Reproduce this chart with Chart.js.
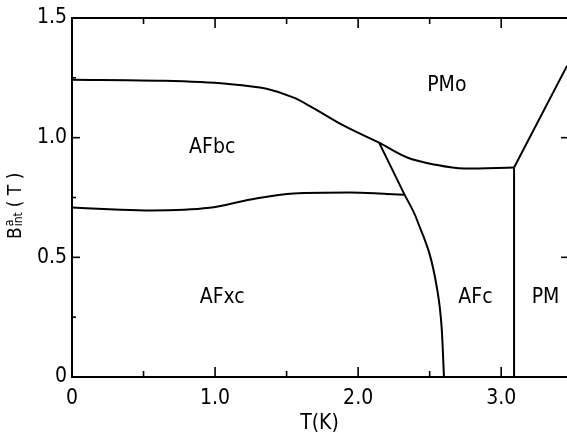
<!DOCTYPE html>
<html>
<head>
<meta charset="utf-8">
<script src="https://cdn.jsdelivr.net/npm/chart.js@4.4.0/dist/chart.umd.min.js"></script>
<style>
  html, body { margin: 0; padding: 0; background: #fff; }
</style>
</head>
<body>
<canvas id="phaseChart" width="567" height="437"></canvas>
<script>
const X_TICKS = [0, 1, 2, 3];
const X_LABELS = ["0", "1.0", "2.0", "3.0"];
const Y_TICKS = [0, 0.5, 1, 1.5];
const Y_LABELS = ["0", "0.5", "1.0", "1.5"];

// AFbc upper boundary
const afbcT = [0, 0.6, 1.08, 1.36, 1.55, 1.66, 1.9, 2.147];
const afbcB = [1.242, 1.238, 1.225, 1.204, 1.167, 1.133, 1.05, 0.979];
// PMo lower boundary
const pmoT = [2.147, 2.343, 2.531, 2.741, 3.09];
const pmoB = [0.979, 0.917, 0.888, 0.871, 0.875];
// PMo / PM line
const pmLineT = [3.09, 3.46];
const pmLineB = [0.875, 1.30];
// AFc / PM vertical boundary
const neelT = [3.09, 3.09];
const neelB = [0, 0.875];
// AFxc upper boundary
const afxcT = [0, 0.3, 0.55, 0.96, 1.25, 1.55, 1.94, 2.2, 2.32];
const afxcB = [0.708, 0.700, 0.696, 0.707, 0.742, 0.767, 0.771, 0.765, 0.762];
// AFxc,AFbc / AFc boundary
const afcT = [2.147, 2.32, 2.413, 2.55, 2.585, 2.60];
const afcB = [0.979, 0.767, 0.654, 0.375, 0.196, 0];

const regionNames = ["PMo", "AFbc", "AFxc", "AFc", "PM"];
const regionT = [2.62, 0.98, 1.05, 2.82, 3.31];
const regionB = [1.217, 0.958, 0.333, 0.333, 0.333];

const FONT = "'Liberation Sans Narrow', 'DejaVu Sans Condensed', 'Liberation Sans', sans-serif";

function pts(ts, bs) {
    return ts.map((t, i) => ({ x: t, y: bs[i] }));
}

function curve(ts, bs, smooth) {
    return {
        data: pts(ts, bs),
        showLine: true,
        borderColor: "#000",
        borderWidth: 2,
        pointRadius: 0,
        cubicInterpolationMode: smooth ? "monotone" : "default",
        tension: 0,
        fill: false,
    };
}

const frameAndText = {
    id: "frameAndText",
    afterDraw(chart) {
        const { ctx, chartArea: a, scales: { x, y } } = chart;
        const line = (x1, y1, x2, y2) => {
            ctx.beginPath();
            ctx.moveTo(x1, y1);
            ctx.lineTo(x2, y2);
            ctx.stroke();
        };
        ctx.save();
        ctx.strokeStyle = "#000";
        ctx.lineWidth = 2;
        line(a.left - 1, a.top, a.right, a.top);

        // inward ticks
        ctx.lineWidth = 1.6;
        for (let v = 0.5; v < x.max; v += 0.5) {
            const px = x.getPixelForValue(v);
            const len = v % 1 === 0 ? 10 : 6;
            line(px, a.bottom, px, a.bottom - len);
            line(px, a.top, px, a.top + len);
        }
        for (let v = 0.25; v < y.max; v += 0.25) {
            const py = y.getPixelForValue(v);
            const major = (v * 2) % 1 === 0;
            line(a.left, py, a.left + (major ? 8 : 4), py);
            if (major) line(a.right, py, a.right - 6, py);
        }

        // region labels
        ctx.fillStyle = "#000";
        ctx.font = "21px " + FONT;
        ctx.textAlign = "center";
        ctx.textBaseline = "middle";
        regionNames.forEach((name, i) => {
            ctx.fillText(name, x.getPixelForValue(regionT[i]), y.getPixelForValue(regionB[i]));
        });

        // y axis title: B^a_int (T)
        ctx.translate(21, 239);
        ctx.rotate(-Math.PI / 2);
        ctx.textAlign = "left";
        ctx.textBaseline = "alphabetic";
        ctx.font = "19px " + FONT;
        ctx.fillText("B", 0, 0);
        const bw = ctx.measureText("B").width;
        ctx.font = "12px " + FONT;
        ctx.fillText("a", bw + 1, -8);
        ctx.fillText("int", bw + 1, 1);
        ctx.font = "19px " + FONT;
        ctx.fillText("( T )", bw + 20, 0);
        ctx.restore();
    },
};

const ctx = document.getElementById("phaseChart").getContext("2d");

var phaseChart = new Chart(ctx, {
    type: "scatter",
    data: {
        datasets: [
            curve(afbcT, afbcB, true),
            curve(pmoT, pmoB, true),
            curve(pmLineT, pmLineB, false),
            curve(neelT, neelB, false),
            curve(afxcT, afxcB, true),
            curve(afcT, afcB, true),
        ],
    },
    options: {
        responsive: false,
        animation: false,
        layout: { padding: { top: 18, right: 0, left: 0, bottom: 0 } },
        plugins: {
            legend: { display: false },
            tooltip: { enabled: false },
        },
        scales: {
            x: {
                type: "linear",
                min: 0,
                max: 3.46,
                afterBuildTicks: (s) => { s.ticks = X_TICKS.map((v) => ({ value: v })); },
                afterFit: (s) => { s.height = 60; },
                ticks: {
                    callback: (v) => X_LABELS[X_TICKS.indexOf(v)],
                    color: "#000",
                    font: { family: FONT, size: 21 },
                    padding: 9,
                    maxRotation: 0,
                    autoSkip: false,
                },
                grid: { drawOnChartArea: false, drawTicks: false },
                border: { display: true, color: "#000", width: 2 },
                title: {
                    display: true,
                    text: "T(K)",
                    color: "#000",
                    font: { family: FONT, size: 21 },
                    padding: { top: 0, bottom: 1 },
                },
            },
            y: {
                type: "linear",
                min: 0,
                max: 1.5,
                afterBuildTicks: (s) => { s.ticks = Y_TICKS.map((v) => ({ value: v })); },
                afterFit: (s) => { s.width = 72; },
                ticks: {
                    callback: (v) => Y_LABELS[Y_TICKS.indexOf(v)],
                    color: "#000",
                    font: { family: FONT, size: 21 },
                    padding: 5,
                    autoSkip: false,
                },
                grid: { drawOnChartArea: false, drawTicks: false },
                border: { display: true, color: "#000", width: 2 },
            },
        },
    },
    plugins: [frameAndText],
});
</script>
</body>
</html>
